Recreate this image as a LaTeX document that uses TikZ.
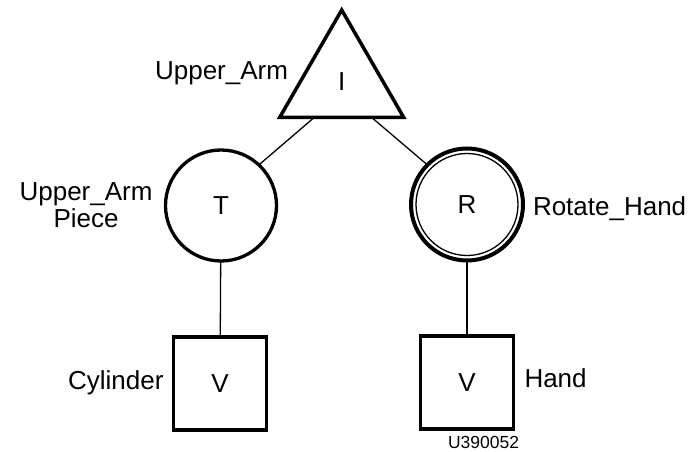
\documentclass[tikz,border=0pt]{standalone}
\usepackage{fontspec}
\setmainfont{Liberation Sans}
\usetikzlibrary{shapes.geometric,calc,positioning}

\begin{document}
\begin{tikzpicture}[
      x=1pt, y=-1pt,
      every node/.style={font=\fontsize{26}{27}\selectfont, inner sep=0pt, outer sep=0pt},
      tri/.style={draw, line width=3.5pt, regular polygon, regular polygon sides=3, minimum size=143pt},
      ring/.style={draw, line width=3.3pt, circle, minimum size=111pt},
      boxv/.style={draw, line width=3.3pt, rectangle, minimum size=93pt},
      lbl/.style={text height=18pt, text depth=5pt},
      link/.style={line width=1.3pt}
      ]
      \useasboundingbox (0,0) rectangle (693,452);

      % Nodes
      \node (arm) [tri] at (341.7,81.5) {I};
      \node (upper) [ring] at (221,205.5) {T};
      \node (rot) [ring, line width=4pt, minimum size=112pt] at (467,204.5) {R};
      \node (cyl) [boxv] at (220,383.5) {V};
      \node (hand) [boxv] at (467,382.5) {V};
      \draw [line width=1.3pt] (rot.center) circle [radius=51pt];

      % Labels
      \node (armlbl) [anchor=base east] at (288,80) {Upper\_Arm};
      \node (upperlbl) [align=center, left=13pt of upper] {Upper\_Arm\\Piece};
      \node (rotlbl) [lbl, right=10pt of rot, yshift=-4pt] {Rotate\_Hand};
      \node (cyllbl) [lbl, left=10pt of cyl, yshift=1pt] {Cylinder};
      \node (handlbl) [lbl, right=11pt of hand, yshift=2pt] {Hand};
      \node (code) [anchor=base west, font=\fontsize{17.5}{19}\selectfont] at (448,448) {U390052};

      % Connectors
      \draw [link] ($(arm.corner 2)!0.28!(arm.corner 3)$) -- (upper.47);
      \draw [link] ($(arm.corner 2)!0.74!(arm.corner 3)$) -- (rot.135);
      \draw [link] (upper) -- (cyl);
      \draw [link] (rot) -- (hand);

    \end{tikzpicture}
\end{document}
